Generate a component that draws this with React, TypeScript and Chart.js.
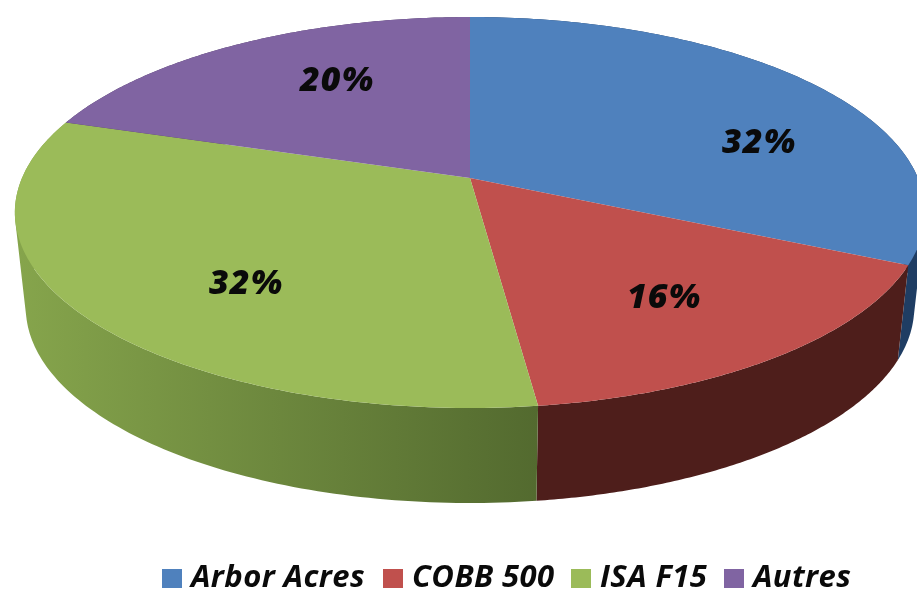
import React, { useEffect, useRef } from "react";
import { Chart, registerables } from "chart.js";

Chart.register(...registerables);

const categories = ["Arbor Acres", "COBB 500", "ISA F15", "Autres"];
const shares = [32, 16, 32, 20];
const topColors = ["#4f81bd", "#c0504d", "#9bbb59", "#8064a2"];
const wallLeft = ["#1f3d63", "#5a2420", "#86a54c", "#4d3c62"];
const wallRight = ["#1f3d63", "#4e1e1b", "#536a2f", "#4d3c62"];
const shareLabels = ["32%", "16%", "32%", "20%"];
const labelAnchors = [[759, 143], [664, 298], [246, 284], [337, 81]];
const legendStarts = [162, 383, 571, 724];

const CX = 470, CY = 178, RX = 448, RY = 189.4, K = 0.1765, DEPTH = 95, SHRINK = 0.976;
const FONT = '"Open Sans", "Noto Sans", sans-serif';

const project = (t: number) => {
  const X = Math.cos(t), Y = Math.sin(t), d = 1 - K * Y;
  return [CX + (RX * X) / d, CY + (RY * Y) / d];
};
const lower = (t: number) => {
  const [x, y] = project(t);
  return [CX + (x - CX) * SHRINK, y + DEPTH];
};

const perspectivePie = {
  id: "perspectivePie",
  beforeDatasetDraw(chart: any) {
    const ctx = chart.ctx as CanvasRenderingContext2D;
    const arcs = chart.getDatasetMeta(0).data;
    const STEPS = 120;
    ctx.save();
    arcs.forEach((arc: any, i: number) => {
      const g = ctx.createLinearGradient(14, 0, 538, 0);
      g.addColorStop(0, wallLeft[i]);
      g.addColorStop(1, wallRight[i]);
      ctx.fillStyle = g;
      const span = arc.endAngle - arc.startAngle;
      ctx.beginPath();
      for (let s = 0; s < STEPS; s++) {
        const t0 = arc.startAngle + (span * s) / STEPS;
        const t1 = arc.startAngle + (span * (s + 1)) / STEPS;
        let quad = [project(t0), project(t1), lower(t1), lower(t0)];
        let area = 0;
        quad.forEach((p, n) => {
          const q = quad[(n + 1) % 4];
          area += p[0] * q[1] - q[0] * p[1];
        });
        if (area < 0) quad = quad.reverse();
        ctx.moveTo(quad[0][0], quad[0][1]);
        ctx.lineTo(quad[1][0], quad[1][1]);
        ctx.lineTo(quad[2][0], quad[2][1]);
        ctx.lineTo(quad[3][0], quad[3][1]);
        ctx.closePath();
      }
      ctx.fill();
    });
    arcs.forEach((arc: any, i: number) => {
      ctx.fillStyle = topColors[i];
      ctx.beginPath();
      ctx.moveTo(CX, CY);
      for (let s = 0; s <= STEPS; s++) {
        const p = project(arc.startAngle + ((arc.endAngle - arc.startAngle) * s) / STEPS);
        ctx.lineTo(p[0], p[1]);
      }
      ctx.closePath();
      ctx.fill();
    });
    ctx.restore();
    return false;
  },
  afterDraw(chart: any) {
    const ctx = chart.ctx as CanvasRenderingContext2D;
    ctx.save();
    ctx.textBaseline = "middle";
    ctx.textAlign = "center";
    ctx.fillStyle = "#0a0a0a";
    ctx.font = `italic 800 34px ${FONT}`;
    (ctx as any).letterSpacing = "1px";
    shareLabels.forEach((text, i) => {
      ctx.fillText(text, labelAnchors[i][0], labelAnchors[i][1]);
    });
    ctx.textAlign = "left";
    ctx.font = `italic 700 31px ${FONT}`;
    (ctx as any).letterSpacing = "0.4px";
    categories.forEach((name, i) => {
      const x = legendStarts[i];
      ctx.fillStyle = topColors[i];
      ctx.fillRect(x, 569, 20, 19);
      ctx.fillStyle = "#0a0a0a";
      ctx.fillText(name, x + 29, 578);
    });
    ctx.restore();
  },
};

export default function App() {
  const ref = useRef<HTMLCanvasElement | null>(null);
  useEffect(() => {
    const chart = new Chart(ref.current as HTMLCanvasElement, {
      type: "pie",
      data: {
        labels: categories,
        datasets: [{ data: shares, backgroundColor: topColors, borderWidth: 0 }],
      },
      options: {
        responsive: false,
        animation: false,
        plugins: { legend: { display: false }, tooltip: { enabled: false } },
      },
      plugins: [perspectivePie],
    } as any);
    return () => chart.destroy();
  }, []);
  return (
    <div style={{ position: "fixed", left: 0, top: 0, width: 917, height: 590, background: "#fff" }}>
      <canvas ref={ref} width={917} height={590} style={{ display: "block", filter: "blur(0.7px)" }} />
    </div>
  );
}
